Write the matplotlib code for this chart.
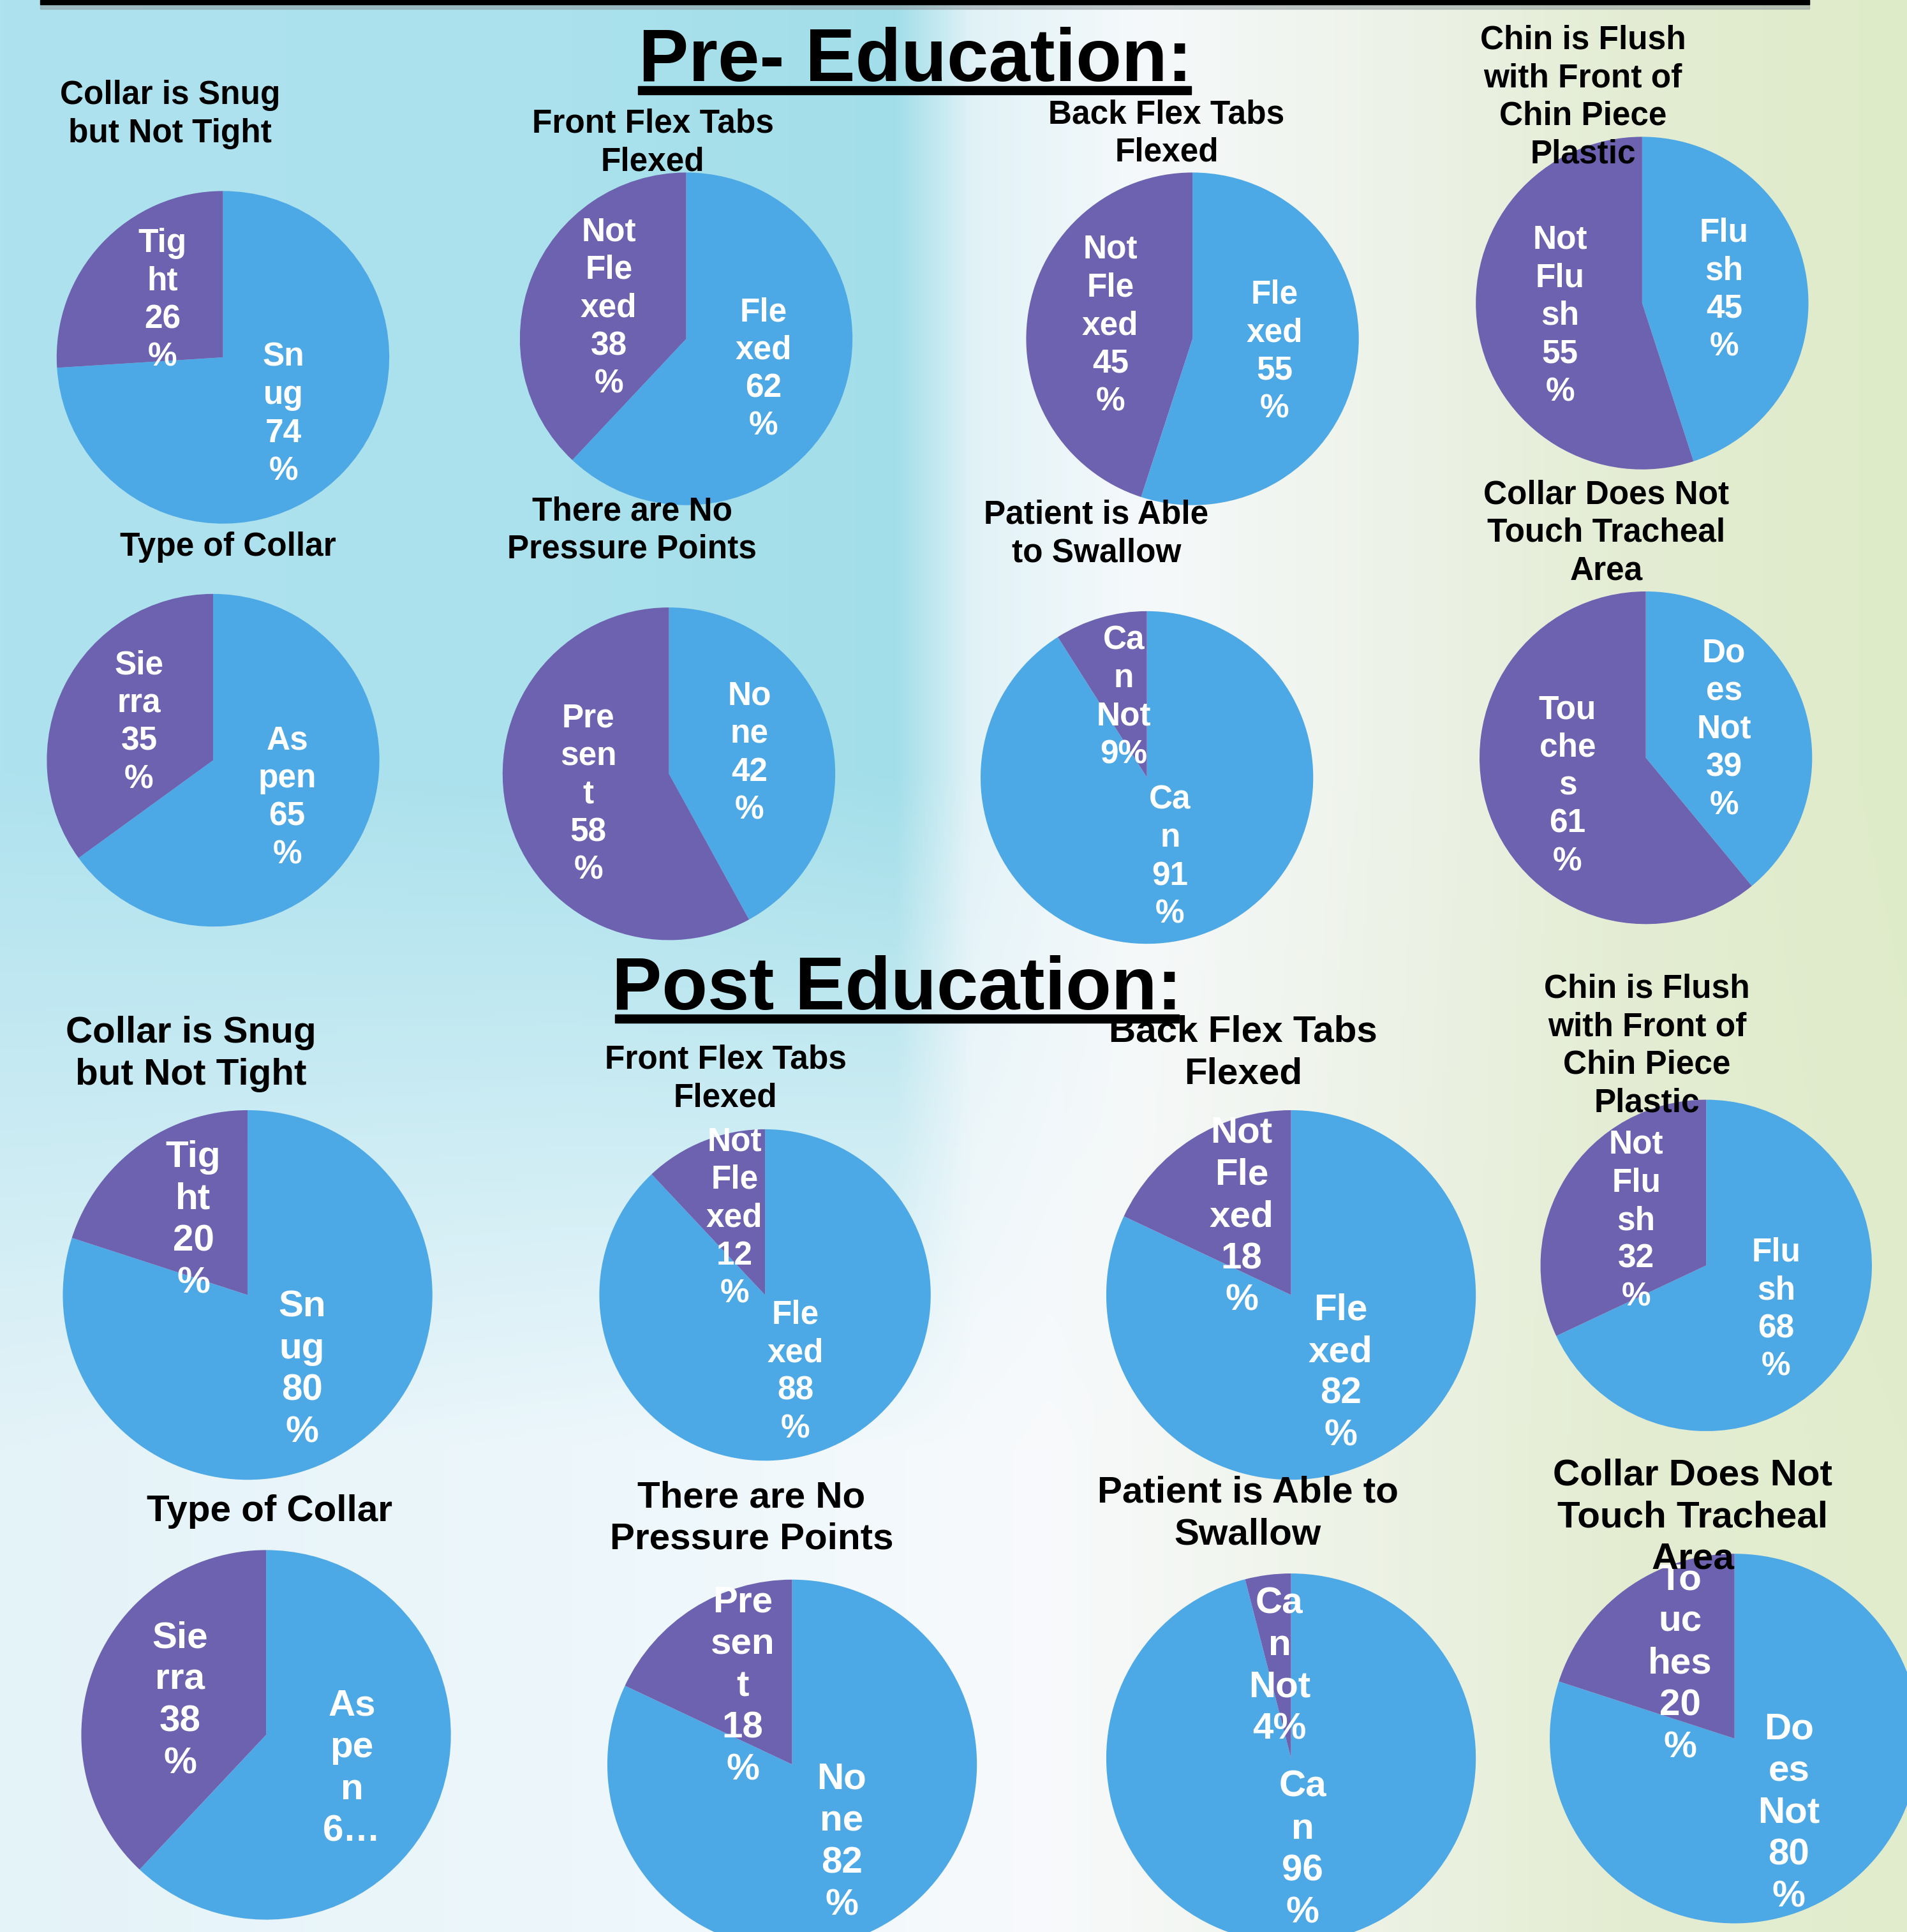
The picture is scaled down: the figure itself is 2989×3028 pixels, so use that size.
import numpy as np
import matplotlib
matplotlib.use("Agg")
import matplotlib.pyplot as plt
from matplotlib.patches import Rectangle

plt.rcParams['font.family'] = ['Liberation Sans', 'DejaVu Sans']
plt.rcParams['font.weight'] = 'bold'

# ---- data ----
pre_titles = ["Collar is Snug\nbut Not Tight", "Front Flex Tabs\nFlexed", "Back Flex Tabs\nFlexed",
              "Chin is Flush\nwith Front of\nChin Piece\nPlastic", "Type of Collar",
              "There are No\nPressure Points", "Patient is Able\nto Swallow",
              "Collar Does Not\nTouch Tracheal\nArea"]
pre_values = [[74, 26], [62, 38], [55, 45], [45, 55], [65, 35], [42, 58], [91, 9], [39, 61]]
pre_labels = [["Sn\nug\n74\n%", "Tig\nht\n26\n%"],
              ["Fle\nxed\n62\n%", "Not\nFle\nxed\n38\n%"],
              ["Fle\nxed\n55\n%", "Not\nFle\nxed\n45\n%"],
              ["Flu\nsh\n45\n%", "Not\nFlu\nsh\n55\n%"],
              ["As\npen\n65\n%", "Sie\nrra\n35\n%"],
              ["No\nne\n42\n%", "Pre\nsen\nt\n58\n%"],
              ["Ca\nn\n91\n%", "Ca\nn\nNot\n9%"],
              ["Do\nes\nNot\n39\n%", "Tou\nche\ns\n61\n%"]]

post_titles = ["Collar is Snug\nbut Not Tight", "Front Flex Tabs\nFlexed", "Back Flex Tabs\nFlexed",
               "Chin is Flush\nwith Front of\nChin Piece\nPlastic", "Type of Collar",
               "There are No\nPressure Points", "Patient is Able to\nSwallow",
               "Collar Does Not\nTouch Tracheal\nArea"]
post_values = [[80, 20], [88, 12], [82, 18], [68, 32], [62, 38], [82, 18], [96, 4], [80, 20]]
post_labels = [["Sn\nug\n80\n%", "Tig\nht\n20\n%"],
               ["Fle\nxed\n88\n%", "Not\nFle\nxed\n12\n%"],
               ["Fle\nxed\n82\n%", "Not\nFle\nxed\n18\n%"],
               ["Flu\nsh\n68\n%", "Not\nFlu\nsh\n32\n%"],
               ["As\npe\nn\n6\u2026", "Sie\nrra\n38\n%"],
               ["No\nne\n82\n%", "Pre\nsen\nt\n18\n%"],
               ["Ca\nn\n96\n%", "Ca\nn\nNot\n4%"],
               ["Do\nes\nNot\n80\n%", "To\nuc\nhes\n20\n%"]]

# ---- layout (positions in a 1548 x 1568 grid) ----
W, H = 1548.0, 1568.0
pie_pos = [(181, 290, 135), (557, 275, 135), (968, 275, 135), (1333, 246, 135),
           (173, 617, 135), (543, 628, 135), (931, 631, 135), (1336, 615, 135),
           (201, 1051, 150), (621, 1051, 134.5), (1048, 1051, 150), (1385, 1027, 134.5),
           (216, 1408, 150), (643, 1432, 150), (1048, 1427, 150), (1408, 1411, 150)]
title_pos = [(138, 93), (530, 116), (947, 108.5), (1285, 79),
             (185, 444), (513, 430.5), (890, 433.5), (1304, 432.5),
             (155, 855.5), (589, 875.5), (1009, 854.5), (1337, 849),
             (219, 1227), (610, 1232.5), (1013, 1228.5), (1374, 1231.5)]
title_size = [37] * 8 + [42, 37, 42, 37, 42, 42, 42, 42]
label_size = [37] * 8 + [42, 37, 42, 37, 42, 42, 42, 42]

BLUE = '#4da9e6'
PURPLE = '#6c62b0'

fig = plt.figure(figsize=(29.89, 30.28), dpi=100)

# background gradient
bg = fig.add_axes([0, 0, 1, 1])
xs = np.linspace(0, 1, 600)
top_stops = [(0.0, (174, 226, 238)), (0.3, (170, 225, 236)), (0.47, (162, 222, 233)),
             (0.51, (225, 242, 247)), (0.6, (246, 249, 251)), (0.72, (238, 243, 234)),
             (0.85, (228, 237, 212)), (1.0, (222, 235, 200))]
bot_stops = [(0.0, (228, 243, 248)), (0.4, (240, 248, 252)), (0.55, (248, 250, 252)),
             (0.7, (238, 243, 232)), (0.85, (228, 237, 210)), (1.0, (225, 236, 205))]
def profile(stops):
    p = np.array([s[0] for s in stops])
    c = np.array([s[1] for s in stops], dtype=float) / 255
    return np.stack([np.interp(xs, p, c[:, k]) for k in range(3)], axis=1)
ys = np.linspace(0, 1, 600)
t = np.clip((ys - 0.4) / 0.35, 0, 1)[:, None, None]
img = (1 - t) * profile(top_stops)[None, :, :] + t * profile(bot_stops)[None, :, :]
bg.imshow(img, aspect='auto', extent=[0, 1, 0, 1], origin='upper')
bg.set_xlim(0, 1)
bg.set_ylim(0, 1)
bg.axis('off')

# top bar with shadow
fig.patches.append(Rectangle((32.6 / W, 1 - 7 / H), (1469 - 32.6) / W, 7 / H,
                             transform=fig.transFigure, color='#8a9498', alpha=0.5, zorder=1))
fig.patches.append(Rectangle((32.6 / W, 1 - 3.5 / H), (1469 - 32.6) / W, 3.5 / H,
                             transform=fig.transFigure, color='black', zorder=2))

titles = pre_titles + post_titles
values = pre_values + post_values
labels = pre_labels + post_labels

for i in range(16):
    cx, cy, r = pie_pos[i]
    ax = fig.add_axes([(cx - r) / W, 1 - (cy + r) / H, 2 * r / W, 2 * r / H])
    ax.pie(values[i], labels=labels[i], colors=[BLUE, PURPLE], startangle=90,
           counterclock=False, labeldistance=0.5,
           wedgeprops=dict(linewidth=0),
           textprops=dict(color='white', fontsize=label_size[i], fontweight='bold',
                          ha='center', va='center', linespacing=1.28))
    ax.set_xlim(-1, 1)
    ax.set_ylim(-1, 1)
    ax.set_aspect('equal')
    ax.axis('off')
    tx, ty = title_pos[i]
    fig.text(tx / W, 1 - ty / H, titles[i], ha='center', va='center',
             fontsize=title_size[i], fontweight='bold', linespacing=1.28, zorder=5)

# section headings
fig.text(743 / W, 1 - 66 / H, "Pre- Education:", ha='center', va='baseline',
         fontsize=84.5, fontweight='bold', zorder=5)
fig.patches.append(Rectangle((518 / W, 1 - 76.5 / H), (967 - 518) / W, 6.5 / H,
                             transform=fig.transFigure, color='black', zorder=5))
fig.text(728 / W, 1 - 819 / H, "Post Education:", ha='center', va='baseline',
         fontsize=84.5, fontweight='bold', zorder=5)
fig.patches.append(Rectangle((499 / W, 1 - 830 / H), (957 - 499) / W, 6.5 / H,
                             transform=fig.transFigure, color='black', zorder=5))

fig.savefig("out.png", dpi=100)
